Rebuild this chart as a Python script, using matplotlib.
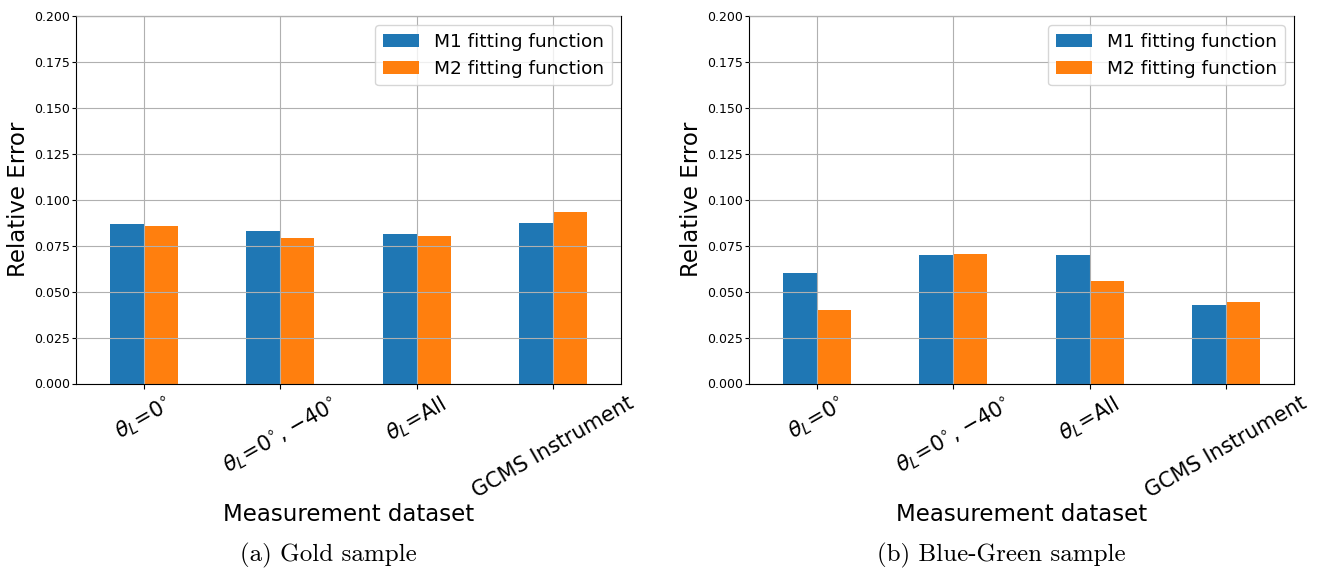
import matplotlib
matplotlib.use("Agg")
import matplotlib.pyplot as plt
import numpy as np

categories = [r'$\theta_L$=0$^{\circ}$', r'$\theta_L$=0$^{\circ}$, $-40^{\circ}$',
              r'$\theta_L$=All', 'GCMS Instrument']
series_names = ['M1 fitting function', 'M2 fitting function']
gold_m1 = [0.0869, 0.0831, 0.0815, 0.0875]
gold_m2 = [0.0858, 0.0793, 0.0804, 0.0935]
bg_m1 = [0.0603, 0.0701, 0.0701, 0.0428]
bg_m2 = [0.0401, 0.0706, 0.0559, 0.0444]
yticks = [0.0, 0.025, 0.05, 0.075, 0.1, 0.125, 0.15, 0.175, 0.2]
captions = ['(a) Gold sample', '(b) Blue-Green sample']

colors = ['#1f77b4', '#ff7f0e']
W, H = 1321, 571
fig = plt.figure(figsize=(W / 100, H / 100), dpi=100)

panels = [(76, gold_m1, gold_m2, captions[0], 328),
          (749, bg_m1, bg_m2, captions[1], 1001)]
x = np.arange(len(categories))
bw = 0.25
for left, m1, m2, cap, capx in panels:
    ax = fig.add_axes([left / W, (H - 383.5) / H, 545 / W, 367.5 / H])
    ax.bar(x - bw / 2, m1, bw, color=colors[0], label=series_names[0])
    ax.bar(x + bw / 2, m2, bw, color=colors[1], label=series_names[1])
    ax.set_xlim(-0.5, len(categories) - 0.5)
    ax.set_ylim(0, 0.2)
    ax.set_yticks(yticks)
    ax.set_yticklabels([f'{v:.3f}' for v in yticks], fontsize=9)
    ax.tick_params(axis='y', length=3, pad=1.5)
    ax.set_xticks(x)
    ax.set_xticklabels(categories, rotation=30, ha='center', fontsize=15)
    ax.grid(True, color='#b0b0b0', linewidth=0.8)
    ax.set_axisbelow(False)
    ax.set_xlabel('Measurement dataset', fontsize=16.5)
    ax.xaxis.set_label_coords(0.5, -0.325)
    ax.set_ylabel('Relative Error', fontsize=16.5)
    ax.yaxis.set_label_coords(-0.084, 0.5)
    ax.legend(loc='upper right', fontsize=13.3)
    fig.text(capx / W, 1 - 555 / H, cap, family='cmr10', fontsize=18,
             ha='center', va='center')

fig.savefig('out.png', dpi=100)
